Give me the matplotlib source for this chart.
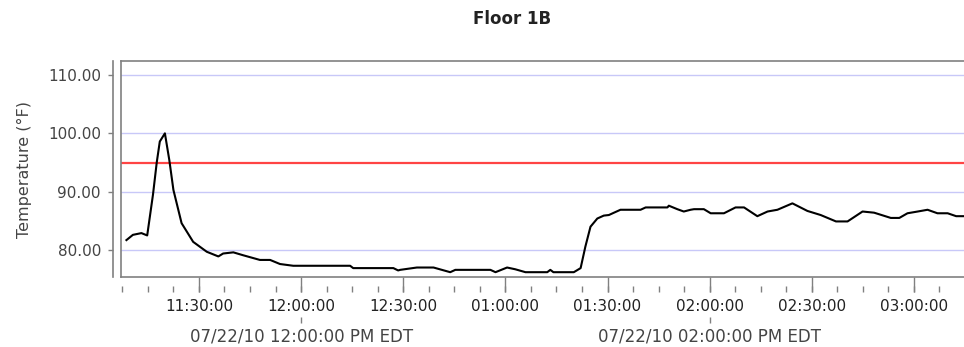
import matplotlib
matplotlib.use("Agg")
import matplotlib.pyplot as plt
from matplotlib.ticker import FixedLocator, MultipleLocator, NullFormatter

# minutes after 11:00 (07/22/10) and temperature in F
minutes = [8.7, 10.6, 13.1, 14.8, 16.5, 17.6, 18.5, 20.0, 21.3, 22.5, 24.9, 28.3,
           32.3, 35.7, 37.1, 40.1, 43.0, 47.9, 50.9, 53.8, 57.7, 74.4, 75.3, 87.1,
           88.5, 89.1, 94.0, 98.9, 103.8, 105.3, 115.6, 117.1, 120.5, 122.9, 125.9,
           132.3, 133.2, 134.1, 140.1, 142.1, 143.5, 145.0, 147.0, 148.9, 150.4,
           151.9, 153.8, 159.7, 161.2, 167.6, 168.0, 170.5, 172.4, 174.4, 175.4,
           178.3, 180.3, 184.2, 187.6, 190.1, 194.0, 197.0, 199.9, 204.3, 208.7,
           212.6, 217.1, 220.5, 224.9, 228.3, 233.2, 235.7, 238.1, 241.1, 244.0,
           246.9, 249.9, 252.4, 255.0]
temps = [81.7, 82.6, 82.9, 82.5, 89.5, 95.0, 98.6, 100.0, 95.4, 90.3, 84.6, 81.4,
         79.7, 78.9, 79.4, 79.6, 79.1, 78.3, 78.3, 77.6, 77.3, 77.3, 76.9, 76.9,
         76.5, 76.6, 77.0, 77.0, 76.2, 76.6, 76.6, 76.2, 77.0, 76.7, 76.2,
         76.2, 76.6, 76.2, 76.2, 76.9, 80.6, 84.0, 85.4, 85.9, 86.0,
         86.4, 86.9, 86.9, 87.3, 87.3, 87.6, 87.0, 86.6, 86.9, 87.0,
         87.0, 86.3, 86.3, 87.3, 87.3, 85.8, 86.6, 86.9, 88.0, 86.7,
         86.0, 84.9, 84.9, 86.6, 86.4, 85.5, 85.5, 86.3, 86.6, 86.9,
         86.3, 86.3, 85.8, 85.8]
threshold = 95

tick_minutes = [30, 60, 90, 120, 150, 180, 210, 240]
tick_labels = ["11:30:00", "12:00:00", "12:30:00", "01:00:00",
               "01:30:00", "02:00:00", "02:30:00", "03:00:00"]
date_minutes = [60, 180]
date_labels = ["07/22/10 12:00:00 PM EDT", "07/22/10 02:00:00 PM EDT"]
y_ticks = [80, 90, 100, 110]

px = 0.72  # points per pixel at dpi 100
grey = "#808080"

fig = plt.figure(figsize=(9.64, 3.47), dpi=100)
ax = fig.add_axes([0.1255, 0.2003, 0.8745, 0.6239])

ax.plot(minutes, temps, color="black", lw=1.5, zorder=3)
ax.axhline(threshold, color="#ff4444", lw=1.6, zorder=2)
for v in y_ticks:
    ax.axhline(v, color="#c8c8f8", lw=1.0, zorder=1)

ax.set_xlim(7.1, 254.7)
ax.set_ylim(75.29, 112.4)

# box border (grey), right side runs off the picture
for s in ["top", "bottom"]:
    ax.spines[s].set_color(grey)
    ax.spines[s].set_linewidth(1.2)
ax.spines["right"].set_visible(False)
ax.spines["left"].set_position(("outward", 8 * px))
ax.spines["left"].set_color(grey)
ax.spines["left"].set_linewidth(1.2)
ax.plot([0, 0], [0, 1], transform=ax.transAxes, color=grey, lw=1.2, clip_on=False)

ax.set_yticks(y_ticks)
ax.set_yticklabels([f"{v:.2f}" for v in y_ticks])
ax.tick_params(axis="y", length=5 * px, width=1, color=grey, pad=7 * px,
               labelsize=11, labelcolor="#444444")

ax.xaxis.set_major_locator(FixedLocator(tick_minutes))
ax.set_xticklabels(tick_labels)
ax.tick_params(axis="x", length=15 * px, width=1, color=grey, pad=7 * px,
               labelsize=11, labelcolor="#222222")

# minor ticks sit a bit below the axis line
sec = ax.secondary_xaxis("bottom")
sec.spines["bottom"].set_position(("outward", 8.5 * px))
sec.spines["bottom"].set_visible(False)
sec.xaxis.set_major_locator(MultipleLocator(7.5))
sec.xaxis.set_major_formatter(NullFormatter())
sec.tick_params(length=6 * px, width=1, color=grey)

# date row
dates = ax.secondary_xaxis("bottom")
dates.spines["bottom"].set_position(("outward", 39.5 * px))
dates.spines["bottom"].set_visible(False)
dates.xaxis.set_major_locator(FixedLocator(date_minutes))
dates.set_xticklabels(date_labels)
dates.tick_params(length=6 * px, width=1, color=grey, pad=5 * px,
                  labelsize=12, labelcolor="#444444")

fig.text(512 / 964, 1 - 19.5 / 347, "Floor 1B", ha="center", va="center",
         fontsize=12, fontweight="bold", color="#222222")
fig.text(24 / 964, 1 - 170 / 347, "Temperature (\u00b0F)", rotation=90,
         ha="center", va="center", fontsize=11.5, color="#444444")

fig.savefig("out.png", dpi=100)
